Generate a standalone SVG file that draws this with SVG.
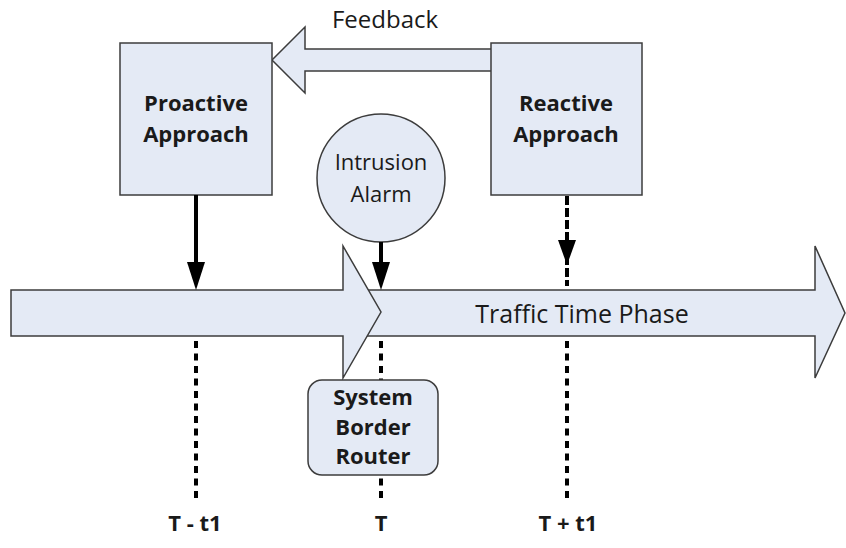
<svg xmlns="http://www.w3.org/2000/svg" width="846" height="548" viewBox="0 0 846 548">
  <style>
    .shape { fill: #e4eaf5; stroke: #3c3c3c; stroke-width: 1.5; stroke-linejoin: miter; }
    .lbl { font-family: "Open Sans", "Liberation Sans", sans-serif; fill: #1a1a1a; text-anchor: middle; }
    .bold { font-weight: bold; font-size: 22px; }
    .reg { font-size: 22px; }
    .dots { stroke: #000; stroke-width: 4; stroke-dasharray: 7 5.5; fill: none; }
    .solid { stroke: #000; stroke-width: 4; fill: none; }
    .dash { stroke: #000; stroke-width: 4; stroke-dasharray: 9 3; fill: none; }
    .head { fill: #000; }
  </style>
  <rect width="846" height="548" fill="#ffffff"/>

  <!-- timeline: second segment sits beneath the first -->
  <g id="timeline">
    <polygon class="shape" points="350,290 815,290 815,246 845,313 815,378 815,336 350,336"/>
    <polygon class="shape" points="11,290 343,290 343,246 381,312 343,378 343,336 11,336"/>
    <text class="lbl" x="582" y="323" style="font-size:25px">Traffic Time Phase</text>
  </g>

  <!-- feedback arrow -->
  <g id="feedback">
    <polygon class="shape" points="495,49 305,49 305,27 272,60 305,93 305,71 495,71"/>
    <text class="lbl" x="385" y="28" style="font-size:24px">Feedback</text>
  </g>

  <g id="proactive">
    <rect class="shape" x="120" y="43" width="152" height="152"/>
    <text class="lbl bold" x="196" y="111">Proactive</text>
    <text class="lbl bold" x="196" y="142">Approach</text>
  </g>

  <g id="reactive">
    <rect class="shape" x="491" y="43" width="151" height="152"/>
    <text class="lbl bold" x="566" y="111">Reactive</text>
    <text class="lbl bold" x="566" y="142">Approach</text>
  </g>

  <g id="alarm">
    <circle class="shape" cx="381" cy="178" r="64"/>
    <text class="lbl reg" x="381" y="170">Intrusion</text>
    <text class="lbl reg" x="381" y="202">Alarm</text>
  </g>

  <!-- connectors and time markers -->
  <g id="connectors">
    <line class="solid" x1="196" y1="195" x2="196" y2="266"/>
    <polygon class="head" points="187,262 205,262 196,290"/>
    <line class="solid" x1="381" y1="242" x2="381" y2="266"/>
    <polygon class="head" points="372,262 390,262 381,290"/>
    <line class="dash" x1="567" y1="196" x2="567" y2="286"/>
    <polygon class="head" points="558,240 576,240 567,265"/>
    <line class="dots" x1="196" y1="341" x2="196" y2="498"/>
    <line class="dots" x1="381" y1="341" x2="381" y2="498"/>
    <line class="dots" x1="567" y1="341" x2="567" y2="498"/>
  </g>

  <g id="router">
    <rect class="shape" x="308" y="380" width="130" height="95" rx="14" ry="14"/>
    <text class="lbl bold" x="373" y="405">System</text>
    <text class="lbl bold" x="373" y="435">Border</text>
    <text class="lbl bold" x="373" y="464">Router</text>
  </g>

  <g id="ticks">
    <text class="lbl bold" x="195" y="531">T - t1</text>
    <text class="lbl bold" x="381" y="531">T</text>
    <text class="lbl bold" x="568" y="531">T + t1</text>
  </g>
</svg>
